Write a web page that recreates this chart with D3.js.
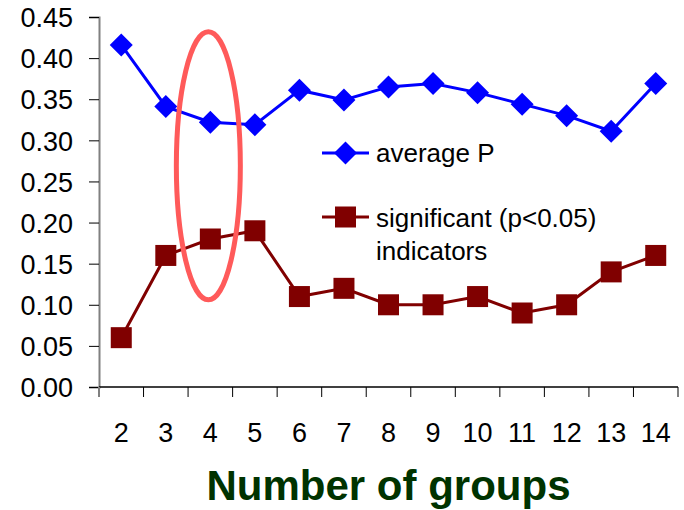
<!DOCTYPE html>
<html>
  <head>
    <meta charset="UTF-8">
    <script src="https://d3js.org/d3.v7.min.js"></script>
    <style>
      body{
        margin: 0;
        background: #fff;
      }
      text{
        font-family: "Liberation Sans", Arial, sans-serif;
      }
    </style>
  </head>
  <body>
    <svg id="chart" width="684" height="510"></svg>

    <script>
      // data
      const groups = ["2", "3", "4", "5", "6", "7", "8", "9", "10", "11", "12", "13", "14"];
      const averageP = [0.416, 0.341, 0.322, 0.319, 0.361, 0.349, 0.365, 0.369, 0.358, 0.344, 0.330, 0.311, 0.369];
      const significant = [0.06, 0.16, 0.18, 0.19, 0.11, 0.12, 0.10, 0.10, 0.11, 0.09, 0.10, 0.14, 0.16];
      const yTicks = [0, 0.05, 0.10, 0.15, 0.20, 0.25, 0.30, 0.35, 0.40, 0.45];
      const seriesNames = ["average P", "significant (p<0.05)|indicators"];

      const svg = d3.select("svg#chart");
      const margin = {"top": 17, "left": 99, "right": 6, "bottom": 123};
      const width = +svg.attr("width");
      const height = +svg.attr("height");
      const chartWidth = width - margin.left - margin.right;
      const chartHeight = height - margin.top - margin.bottom;

      const x = d3.scaleBand().domain(groups).range([margin.left, margin.left + chartWidth]);
      const y = d3.scaleLinear().domain([0, 0.45]).range([margin.top + chartHeight, margin.top]);

      // y axis
      let leftAxis = d3.axisLeft(y).tickValues(yTicks).tickFormat(d3.format(".2f")).tickSize(10).tickPadding(16);
      let yAxis = svg.append("g")
         .attr("transform", "translate(" + margin.left + ",0)")
         .call(leftAxis);
      yAxis.select(".domain").attr("stroke", "#808080").attr("stroke-width", 2);
      yAxis.selectAll(".tick line").attr("stroke", "#000");
      yAxis.selectAll("text").style("font-size", "27px").attr("fill", "#000").attr("dy", "0.36em");

      // x axis: ticks at band edges, labels at band centres
      let xAxis = svg.append("g").attr("transform", "translate(0," + y(0) + ")");
      xAxis.append("line")
         .attr("x1", margin.left).attr("x2", margin.left + chartWidth)
         .attr("stroke", "#000").attr("stroke-width", 1.5);
      xAxis.selectAll("line.tick")
         .data(groups.concat(["end"]))
         .join("line")
         .attr("class", "tick")
         .attr("x1", d => d === "end" ? x.range()[1] : x(d))
         .attr("x2", d => d === "end" ? x.range()[1] : x(d))
         .attr("y1", 0).attr("y2", 10)
         .attr("stroke", (d, i) => i === 0 ? "#808080" : "#000")
         .attr("stroke-width", (d, i) => i === 0 ? 2 : 1);
      xAxis.selectAll("text")
         .data(groups)
         .join("text")
         .attr("x", d => x(d) + x.bandwidth() / 2)
         .attr("y", 55)
         .attr("text-anchor", "middle")
         .style("font-size", "27px")
         .text(d => d);

      svg.append("text")
         .attr("x", margin.left + chartWidth / 2)
         .attr("y", 500)
         .attr("text-anchor", "middle")
         .attr("fill", "#003300")
         .style("font-size", "42px")
         .style("font-weight", "bold")
         .text("Number of groups");

      const cx = d => x(d) + x.bandwidth() / 2;
      const line = d3.line().x((d, i) => cx(groups[i])).y(d => y(d));

      // series lines
      svg.append("path").datum(averageP)
         .attr("d", line).attr("fill", "none")
         .attr("stroke", "#0000ff").attr("stroke-width", 3);
      svg.append("path").datum(significant)
         .attr("d", line).attr("fill", "none")
         .attr("stroke", "#800000").attr("stroke-width", 3);

      // markers
      const diamond = s => "M0," + (-s) + "L" + s + ",0L0," + s + "L" + (-s) + ",0Z";
      svg.selectAll("path.diamond")
         .data(averageP)
         .join("path")
         .attr("class", "diamond")
         .attr("transform", (d, i) => "translate(" + cx(groups[i]) + "," + y(d) + ")")
         .attr("d", diamond(11.5))
         .attr("fill", "#0000ff");
      svg.selectAll("rect.square")
         .data(significant)
         .join("rect")
         .attr("class", "square")
         .attr("x", (d, i) => cx(groups[i]) - 10.5)
         .attr("y", d => y(d) - 10.5)
         .attr("width", 21).attr("height", 21)
         .attr("fill", "#800000");

      // red ellipse highlighting 4 groups
      svg.append("ellipse")
         .attr("cx", cx("4") - 2)
         .attr("cy", y(0.269))
         .attr("rx", 32)
         .attr("ry", 134)
         .attr("fill", "none")
         .attr("stroke", "#ff5a5a")
         .attr("stroke-width", 5);

      // legend
      let legend = svg.append("g");
      legend.append("line").attr("x1", 322).attr("x2", 369).attr("y1", 153).attr("y2", 153)
         .attr("stroke", "#0000ff").attr("stroke-width", 3);
      legend.append("path").attr("transform", "translate(345.5,153)").attr("d", diamond(11.5)).attr("fill", "#0000ff");
      legend.append("text").attr("x", 376).attr("y", 162).style("font-size", "26px").text(seriesNames[0]);

      legend.append("line").attr("x1", 322).attr("x2", 369).attr("y1", 217).attr("y2", 217)
         .attr("stroke", "#800000").attr("stroke-width", 3);
      legend.append("rect").attr("x", 335).attr("y", 206.5).attr("width", 21).attr("height", 21).attr("fill", "#800000");
      seriesNames[1].split("|").forEach((t, i) => {
        legend.append("text").attr("x", 376).attr("y", 227 + i * 33).style("font-size", "26px").text(t);
      });
    </script>
  </body>
</html>
